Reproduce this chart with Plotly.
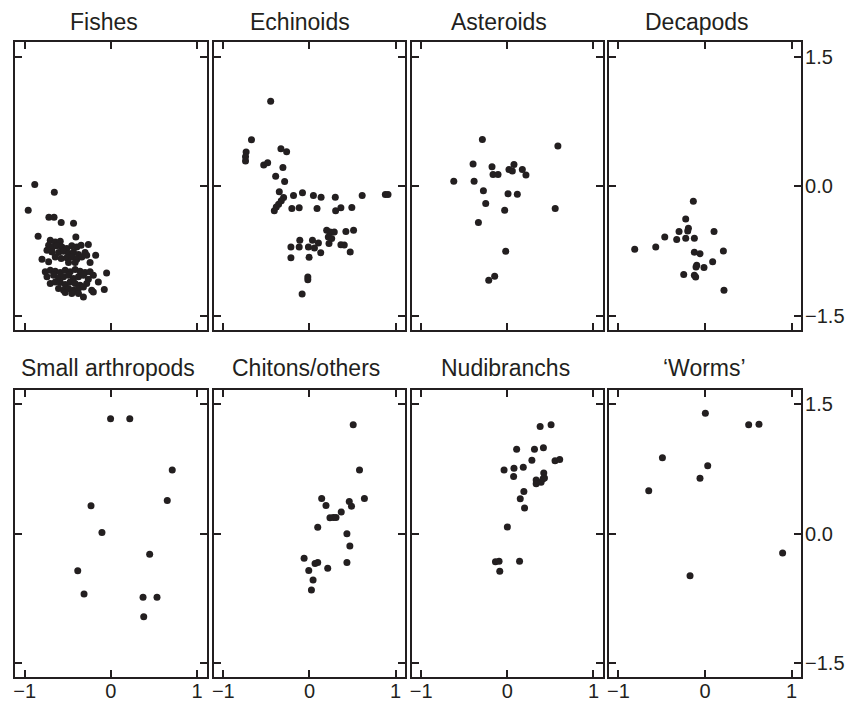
import plotly.graph_objects as go

ink = "#231f20"

panel_names = ["Fishes", "Echinoids", "Asteroids", "Decapods",
               "Small arthropods", "Chitons/others", "Nudibranchs", "\u2018Worms\u2019"]

fishes_x = [-0.884, -0.657, -0.96, -0.72, -0.66, -0.577, -0.434, -0.845, -0.407,
            -0.704, -0.646, -0.588, -0.723, -0.677, -0.627, -0.569, -0.512, -0.454, -0.396, -0.346, -0.262,
            -0.742, -0.685, -0.608, -0.55, -0.492, -0.435, -0.377, -0.3, -0.646, -0.577, -0.512, -0.454,
            -0.396, -0.338, -0.281, -0.177, -0.8, -0.723, -0.492, -0.415, -0.242,
            -0.762, -0.704, -0.646, -0.588, -0.531, -0.473, -0.415, -0.358, -0.3, -0.242, -0.204, -0.05,
            -0.742, -0.665, -0.608, -0.55, -0.492, -0.435, -0.377, -0.319, -0.262, -0.704, -0.646, -0.588,
            -0.531, -0.473, -0.415, -0.358, -0.281, -0.146, -0.608, -0.55, -0.492, -0.435, -0.377, -0.319,
            -0.223, -0.077, -0.454, -0.377, -0.319, -0.204, -0.531]
fishes_y = [0.02, -0.07, -0.28, -0.36, -0.36, -0.42, -0.43, -0.58, -0.59,
            -0.625, -0.645, -0.637, -0.683, -0.703, -0.691, -0.703, -0.722, -0.691, -0.703, -0.683, -0.676,
            -0.741, -0.761, -0.768, -0.753, -0.78, -0.761, -0.792, -0.768, -0.819, -0.838, -0.83, -0.819,
            -0.846, -0.819, -0.799, -0.799, -0.846, -0.876, -0.884, -0.884, -0.884,
            -0.992, -0.973, -0.985, -1.0, -0.973, -0.992, -0.965, -0.985, -1.0, -0.992, -1.031, -1.004,
            -1.05, -1.031, -1.062, -1.05, -1.031, -1.069, -1.05, -1.031, -1.077, -1.127, -1.108, -1.116,
            -1.139, -1.108, -1.127, -1.147, -1.127, -1.108, -1.185, -1.205, -1.185, -1.205, -1.185, -1.166,
            -1.205, -1.197, -1.243, -1.243, -1.282, -1.224, -1.232]

echinoids_x = [-0.45, -0.673, -0.735, -0.742, -0.742, -0.331, -0.265, -0.531, -0.485, -0.308,
               -0.392, -0.288, -0.35, -0.3, -0.327, -0.358, -0.385, -0.408, -0.185, -0.081,
               -0.204, -0.119, 0.046, 0.135, 0.088, 0.3, 0.304, 0.365, 0.492, 0.612, 0.881, 0.912,
               0.2, 0.238, 0.288, 0.219, 0.258, 0.227, 0.423, 0.512, -0.112, 0.035, 0.104,
               -0.215, -0.119, -0.012, 0.058, 0.365, 0.404, 0.131, 0.473, -0.215, -0.004,
               -0.019, -0.019, -0.085]
echinoids_y = [0.982, 0.537, 0.394, 0.34, 0.29, 0.433, 0.398, 0.244, 0.27, 0.217,
               0.116, 0.054, -0.066, -0.131, -0.17, -0.209, -0.24, -0.286, -0.108, -0.077,
               -0.259, -0.251, -0.108, -0.128, -0.259, -0.128, -0.286, -0.251, -0.247, -0.108, -0.097, -0.097,
               -0.51, -0.53, -0.53, -0.588, -0.607, -0.665, -0.526, -0.51, -0.626, -0.626, -0.657,
               -0.704, -0.704, -0.704, -0.715, -0.677, -0.681, -0.77, -0.762, -0.828, -0.824,
               -1.052, -1.083, -1.249]

asteroids_x = [-0.29, 0.587, -0.398, -0.178, -0.166, -0.108, 0.019, 0.058, 0.077, 0.174, 0.216,
               -0.622, -0.386, -0.278, 0.008, 0.116, -0.251, -0.031, 0.556, -0.336, -0.019, -0.216, -0.147]
asteroids_y = [0.541, 0.464, 0.255, 0.224, 0.135, 0.135, 0.193, 0.174, 0.251, 0.193, 0.128,
               0.058, 0.058, -0.054, -0.089, -0.093, -0.201, -0.278, -0.259, -0.421, -0.754, -1.09, -1.044]

decapods_x = [-0.135, -0.223, -0.3, -0.192, -0.2, -0.465, -0.327, -0.223, -0.123, 0.104, -0.812,
              -0.569, -0.123, -0.058, 0.212, -0.096, -0.104, -0.012, 0.088, -0.246, -0.123, -0.108, 0.219]
decapods_y = [-0.174, -0.379, -0.526, -0.487, -0.518, -0.588, -0.618, -0.603, -0.603, -0.526, -0.731,
              -0.704, -0.765, -0.781, -0.75, -0.916, -0.935, -0.943, -0.874, -1.024, -1.032, -1.051, -1.206]

small_arthropods_x = [-0.004, 0.219, 0.712, 0.654, -0.231, -0.104, 0.45, -0.385, -0.312, 0.373, 0.535, 0.381]
small_arthropods_y = [1.331, 1.331, 0.738, 0.385, 0.323, 0.012, -0.238, -0.431, -0.7, -0.738, -0.738, -0.962]

chitons_x = [0.508, 0.581, 0.638, 0.142, 0.192, 0.462, 0.488, 0.369, 0.238, 0.277, 0.308, 0.096,
             0.435, 0.469, -0.062, 0.065, 0.096, 0.435, -0.008, 0.212, 0.042, 0.023]
chitons_y = [1.262, 0.738, 0.408, 0.408, 0.327, 0.373, 0.319, 0.25, 0.185, 0.188, 0.188, 0.073,
             0.0, -0.142, -0.285, -0.346, -0.335, -0.335, -0.427, -0.4, -0.538, -0.654]

nudibranchs_x = [0.381, 0.508, 0.108, 0.315, 0.419, -0.038, 0.077, 0.185, 0.285, 0.073, 0.554, 0.608,
                 0.423, 0.431, 0.335, 0.335, 0.392, 0.415, 0.192, 0.15, 0.2, 0.0, -0.138, -0.096,
                 -0.088, 0.142]
nudibranchs_y = [1.242, 1.262, 0.977, 0.977, 0.996, 0.738, 0.758, 0.769, 0.85, 0.662, 0.846, 0.858,
                 0.704, 0.646, 0.623, 0.577, 0.596, 0.635, 0.488, 0.404, 0.296, 0.077, -0.327, -0.319,
                 -0.435, -0.319]

worms_x = [0.004, 0.504, 0.623, -0.492, 0.031, -0.058, -0.65, 0.896, -0.173]
worms_y = [1.396, 1.262, 1.269, 0.881, 0.788, 0.642, 0.496, -0.223, -0.488]

x_ticks = [-1, 0, 1]
y_ticks = [-1.5, 0, 1.5]

series = [(fishes_x, fishes_y), (echinoids_x, echinoids_y), (asteroids_x, asteroids_y),
          (decapods_x, decapods_y), (small_arthropods_x, small_arthropods_y),
          (chitons_x, chitons_y), (nudibranchs_x, nudibranchs_y), (worms_x, worms_y)]

W, H = 857, 702
OFF = 8  # page body margin offset in the browser
xdom_px = [(13.3, 205.0), (212.3, 404.0), (410.7, 602.3), (608.3, 801.0)]
ydom_px = [(42.3, 330.0), (390.0, 677.3)]
title_cx = [[102.5, 299, 498, 697], [106, 305, 505, 704]]
title_base = [37, 383]

font_family = "Liberation Sans, Arial, Helvetica, sans-serif"

fig = go.Figure()
layout = {}
annotations = []
for i, (xs, ys) in enumerate(series):
    r, c = divmod(i, 4)
    n = i + 1
    suf = "" if n == 1 else str(n)
    fig.add_trace(go.Scatter(x=xs, y=ys, mode="markers",
                             marker=dict(size=7, color=ink, line=dict(width=0)),
                             xaxis="x" + suf, yaxis="y" + suf, showlegend=False,
                             hoverinfo="skip"))
    x0, x1 = xdom_px[c]
    t, b = ydom_px[r]
    layout["xaxis" + suf] = dict(
        domain=[(x0 - OFF) / W, (x1 - OFF) / W], anchor="y" + suf, range=[-1.11, 1.11],
        tickvals=x_ticks, ticks="inside", ticklen=7, tickwidth=1.5, tickcolor=ink,
        showline=True, linecolor=ink, linewidth=1.8, mirror="ticks",
        showgrid=False, zeroline=False, showticklabels=(r == 1),
        ticklabelstandoff=-5,
        tickfont=dict(family=font_family, size=20, color=ink), fixedrange=True)
    layout["yaxis" + suf] = dict(
        domain=[1 - (b - OFF) / H, 1 - (t - OFF) / H], anchor="x" + suf, range=[-1.665, 1.665],
        tickvals=y_ticks, tickformat=".1f", side="right",
        ticks="inside", ticklen=7, tickwidth=1.5, tickcolor=ink,
        showline=True, linecolor=ink, linewidth=1.8, mirror="ticks",
        showgrid=False, zeroline=False, showticklabels=(c == 3),
        ticklabelstandoff=-2,
        tickfont=dict(family=font_family, size=20, color=ink), fixedrange=True)
    annotations.append(dict(text=panel_names[i], xref="paper", yref="paper",
                            x=(title_cx[r][c] - OFF) / W, y=1 - (title_base[r] - OFF) / H,
                            xanchor="center", yanchor="bottom", showarrow=False,
                            font=dict(family=font_family, size=23, color=ink)))

fig.update_layout(**layout)
fig.update_layout(width=W, height=H, margin=dict(l=0, r=0, t=0, b=0),
                  paper_bgcolor="white", plot_bgcolor="white",
                  annotations=annotations)

fig.write_html("out.html")
